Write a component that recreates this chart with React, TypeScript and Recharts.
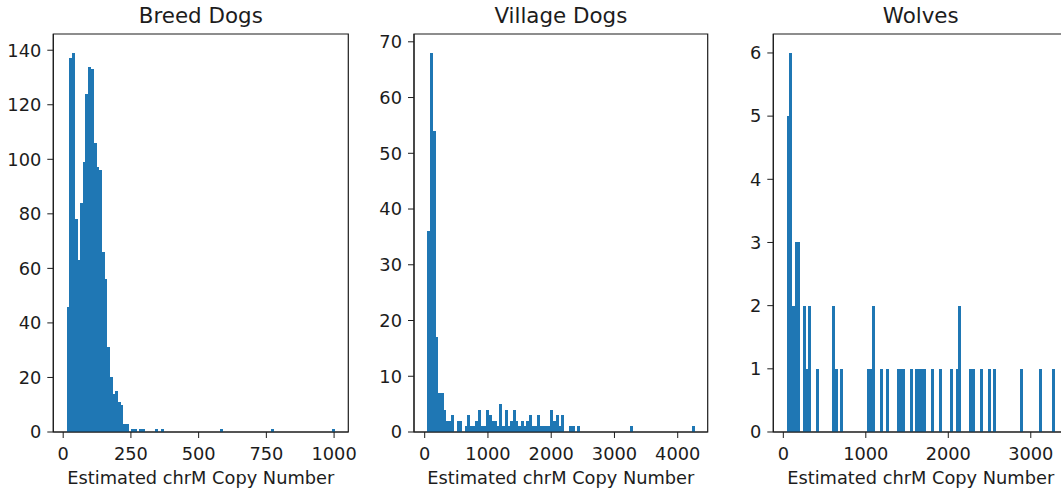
import { BarChart, Bar, XAxis, YAxis, ReferenceArea } from "recharts"

const FONT = "'DejaVu Sans', Verdana, sans-serif"
const INK = "#1c1c1c"
const BLUE = "#1f77b4"
const HEIGHT = 491

// counts per bin, 100 equal-width bins spanning [min, max] of each sample
const breedRange = [13, 1003]
const breedCounts = [
  46, 137, 139, 78, 63, 84, 99, 124, 134, 133,
  106, 97, 96, 66, 56, 31, 20, 14, 15, 11,
  10, 3, 3, 0, 1, 1, 0, 1, 1, 0,
  0, 0, 0, 1, 0, 1, 0, 0, 0, 0,
  0, 0, 0, 0, 0, 0, 0, 0, 0, 0,
  0, 0, 0, 0, 0, 0, 0, 1, 0, 0,
  0, 0, 0, 0, 0, 0, 0, 0, 0, 0,
  0, 0, 0, 0, 0, 0, 1, 0, 0, 0,
  0, 0, 0, 0, 0, 0, 0, 0, 0, 0,
  0, 0, 0, 0, 0, 0, 0, 0, 0, 1
]

const villageRange = [42, 4263]
const villageCounts = [
  36, 68, 54, 17, 7, 7, 4, 2, 2, 3,
  0, 2, 2, 0, 1, 3, 1, 1, 2, 4,
  1, 1, 4, 3, 2, 2, 1, 5, 1, 4,
  1, 2, 4, 2, 1, 2, 1, 2, 3, 1,
  1, 3, 1, 1, 1, 1, 4, 2, 3, 1,
  3, 0, 0, 1, 1, 0, 1, 0, 0, 0,
  0, 0, 0, 0, 0, 0, 0, 0, 0, 0,
  0, 0, 0, 0, 0, 0, 1, 0, 0, 0,
  0, 0, 0, 0, 0, 0, 0, 0, 0, 0,
  0, 0, 0, 0, 0, 0, 0, 0, 0, 1
]

const wolfRange = [41, 3290]
const wolfCounts = [
  5, 6, 2, 3, 3, 0, 2, 1, 2, 0,
  0, 1, 0, 0, 0, 0, 0, 2, 1, 0,
  1, 0, 0, 0, 0, 0, 0, 0, 0, 0,
  1, 1, 2, 0, 0, 1, 0, 1, 0, 0,
  0, 1, 1, 1, 0, 0, 1, 0, 1, 1,
  1, 1, 0, 0, 1, 0, 0, 1, 0, 0,
  0, 1, 0, 1, 2, 0, 0, 0, 1, 1,
  0, 0, 1, 0, 0, 1, 0, 1, 0, 0,
  0, 0, 0, 0, 0, 0, 0, 1, 0, 0,
  0, 0, 0, 0, 1, 0, 0, 0, 0, 1
]

const breedXTicks = [0, 250, 500, 750, 1000]
const breedYTicks = [0, 20, 40, 60, 80, 100, 120, 140]
const villageXTicks = [0, 1000, 2000, 3000, 4000]
const villageYTicks = [0, 10, 20, 30, 40, 50, 60, 70]
const wolfXTicks = [0, 1000, 2000, 3000]
const wolfYTicks = [0, 1, 2, 3, 4, 5, 6]

const xLabel = "Estimated chrM Copy Number"

type PanelProps = {
  title: string
  range: number[]
  counts: number[]
  xTicks: number[]
  yTicks: number[]
  left: number
  width: number
  yAxisWidth: number
  rightMargin: number
}

function HistPanel({ title, range, counts, xTicks, yTicks, left, width, yAxisWidth, rightMargin }: PanelProps) {
  const [lo, hi] = range
  const step = (hi - lo) / counts.length
  const data = counts.map((count, i) => ({ x: lo + (i + 0.5) * step, count }))
  const pad = (hi - lo) * 0.05
  const xMin = lo - pad
  const xMax = hi + pad
  const yMax = Math.max(...counts) * 1.05
  const plotWidth = width - yAxisWidth - rightMargin
  const tickStyle = { fill: INK, fontSize: 17.8, fontFamily: FONT }

  return (
    <div style={{ position: "absolute", left, top: 0, width, height: HEIGHT }}>
      <div
        style={{
          position: "absolute",
          left: yAxisWidth,
          top: 5,
          width: plotWidth,
          textAlign: "center",
          fontFamily: FONT,
          fontSize: 21.4,
          lineHeight: 1,
          color: INK,
          whiteSpace: "nowrap"
        }}
      >
        {title}
      </div>
      <BarChart
        width={width}
        height={HEIGHT}
        data={data}
        margin={{ top: 34, right: rightMargin, bottom: 0, left: 0 }}
        barCategoryGap={0}
        barGap={0}
      >
        <XAxis
          type="number"
          dataKey="x"
          domain={[xMin, xMax]}
          allowDataOverflow
          ticks={xTicks}
          interval={0}
          height={59}
          tickSize={6}
          tickMargin={9}
          stroke={INK}
          tick={tickStyle}
          label={{ value: xLabel, position: "insideBottom", offset: 7, fill: INK, fontSize: 17.8, fontFamily: FONT }}
        />
        <YAxis
          type="number"
          domain={[0, yMax]}
          allowDataOverflow
          ticks={yTicks}
          interval={0}
          width={yAxisWidth}
          tickSize={6}
          tickMargin={6}
          stroke={INK}
          tick={tickStyle}
        />
        {/* crisp edges keep adjacent bins solid, without hairline seams */}
        <Bar dataKey="count" fill={BLUE} shapeRendering="crispEdges" isAnimationActive={false} />
        <ReferenceArea
          x1={xMin}
          x2={xMax}
          y1={0}
          y2={yMax}
          fill="none"
          stroke={INK}
          strokeWidth={1.2}
          ifOverflow="visible"
        />
      </BarChart>
    </div>
  )
}

export default function App() {
  return (
    <div
      style={{
        position: "absolute",
        left: 0,
        top: 0,
        width: 1061,
        height: HEIGHT,
        overflow: "hidden",
        background: "#fff"
      }}
    >
      <HistPanel
        title="Breed Dogs"
        range={breedRange}
        counts={breedCounts}
        xTicks={breedXTicks}
        yTicks={breedYTicks}
        left={0}
        width={360}
        yAxisWidth={53.3}
        rightMargin={11.7}
      />
      <HistPanel
        title="Village Dogs"
        range={villageRange}
        counts={villageCounts}
        xTicks={villageXTicks}
        yTicks={villageYTicks}
        left={360}
        width={360}
        yAxisWidth={54}
        rightMargin={12.3}
      />
      <HistPanel
        title="Wolves"
        range={wolfRange}
        counts={wolfCounts}
        xTicks={wolfXTicks}
        yTicks={wolfYTicks}
        left={720}
        width={353.1}
        yAxisWidth={53.3}
        rightMargin={5}
      />
    </div>
  )
}
